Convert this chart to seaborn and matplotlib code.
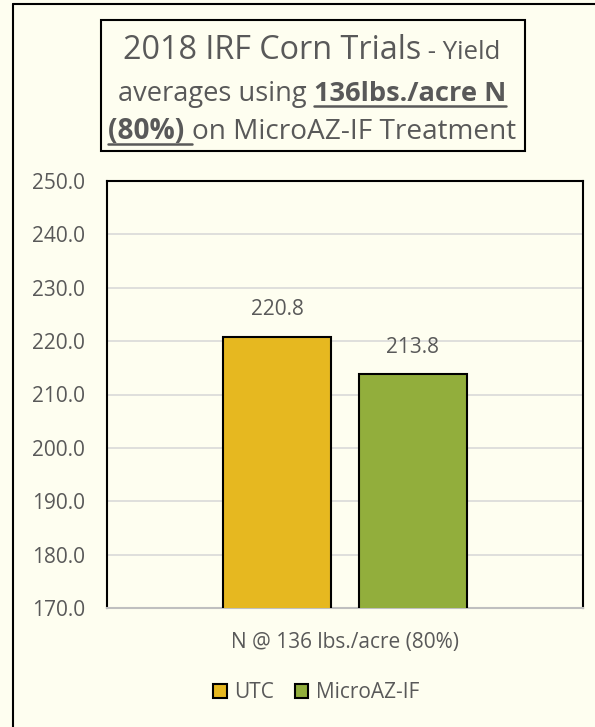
import numpy as np
import pandas as pd
import matplotlib
matplotlib.use('Agg')
import matplotlib.pyplot as plt
import seaborn as sns
from matplotlib.patches import Rectangle, Patch
from matplotlib.lines import Line2D

# ===== data =====
category = ['N @ 136 lbs./acre (80%)']
treatments = ['UTC', 'MicroAZ-IF']
yields = [220.8, 213.8]
bar_colors = ['#E6B820', '#92AE3C']
y_ticks = [170, 180, 190, 200, 210, 220, 230, 240, 250]

df = pd.DataFrame({'group': category * len(treatments),
                   'treatment': treatments,
                   'yield': yields})

BG = '#FEFEF0'
TXT = '#595959'
W, H = 595, 727

sns.set_theme(style='white')
plt.rcParams['font.family'] = ['Open Sans', 'DejaVu Sans']

fig = plt.figure(figsize=(W / 100, H / 100), dpi=100, facecolor=BG)

# pixel -> figure fraction
def fx(px):
    return px / W

def fy(py):
    return 1 - py / H

ax = fig.add_axes([fx(107), fy(608), fx(583) - fx(107), fy(181) - fy(608)])
ax.set_facecolor(BG)

sns.barplot(data=df, x='group', y='yield', hue='treatment', palette=bar_colors,
            saturation=1, width=0.571, gap=0.21, edgecolor='black', linewidth=1.5,
            ax=ax, legend=False, zorder=3)

ax.set_ylim(170, 250)
ax.set_yticks(y_ticks)
ax.set_yticklabels([f'{v:.1f}' for v in y_ticks])
ax.set_xlim(-0.5, 0.5)
ax.set_xlabel('')
ax.set_ylabel('')
ax.grid(axis='y', color='#D9D9D9', linewidth=1.2, zorder=0)
ax.tick_params(axis='y', length=0, pad=16, labelsize=15, labelcolor=TXT)
ax.tick_params(axis='x', length=0, pad=17, labelsize=15, labelcolor=TXT)

for s in ['left', 'top', 'right']:
    ax.spines[s].set_color('black')
    ax.spines[s].set_linewidth(1.5)
ax.spines['bottom'].set_color('#BFBFBF')
ax.spines['bottom'].set_linewidth(1.5)

for cont in ax.containers:
    ax.bar_label(cont, fmt='%.1f', padding=12, fontsize=15, color=TXT)

# legend
handles = [Patch(facecolor=c, edgecolor='black', linewidth=1.5) for c in bar_colors]
fig.legend(handles, treatments, loc='center', bbox_to_anchor=(fx(316), fy(693)),
           ncol=2, frameon=False, fontsize=15, labelcolor=TXT,
           handlelength=0.65, handleheight=0.65, handletextpad=0.35, columnspacing=1.0)

# outer frame (left and top edges visible)
fig.add_artist(Line2D([fx(12.5), fx(12.5)], [0, fy(4)], color='black', linewidth=1.5,
                      transform=fig.transFigure))
fig.add_artist(Line2D([fx(12.5), 1], [fy(4), fy(4)], color='black', linewidth=1.5,
                      transform=fig.transFigure))

# title box
fig.add_artist(Rectangle((fx(101), fy(151)), fx(525) - fx(101), fy(20) - fy(151),
                         facecolor=BG, edgecolor='black', linewidth=1.5,
                         transform=fig.transFigure))

title_lines = [
    (59, [('2018 IRF Corn Trials', 23.3, 'normal', False), (' - Yield', 18.5, 'normal', False)]),
    (101, [('averages using ', 19.6, 'normal', False), ('136lbs./acre N', 19.6, 'bold', True)]),
    (139, [('(80%) ', 20.2, 'bold', True), ('on MicroAZ-IF Treatment', 20.2, 'normal', False)]),
]

renderer = fig.canvas.get_renderer()
cx = 312
for base_y, pieces in title_lines:
    texts = []
    for s, size, weight, ul in pieces:
        t = fig.text(0, fy(base_y), s, fontsize=size, fontweight=weight, color=TXT,
                     va='baseline', ha='left')
        texts.append((t, ul))
    widths = [t.get_window_extent(renderer).width for t, _ in texts]
    x = cx - sum(widths) / 2
    for (t, ul), w in zip(texts, widths):
        t.set_x(fx(x))
        if ul:
            fig.add_artist(Line2D([fx(x), fx(x + w)], [fy(base_y + 5), fy(base_y + 5)],
                                  color=TXT, linewidth=1.8, transform=fig.transFigure))
        x += w

fig.savefig('out.png', dpi=100, facecolor=BG)
